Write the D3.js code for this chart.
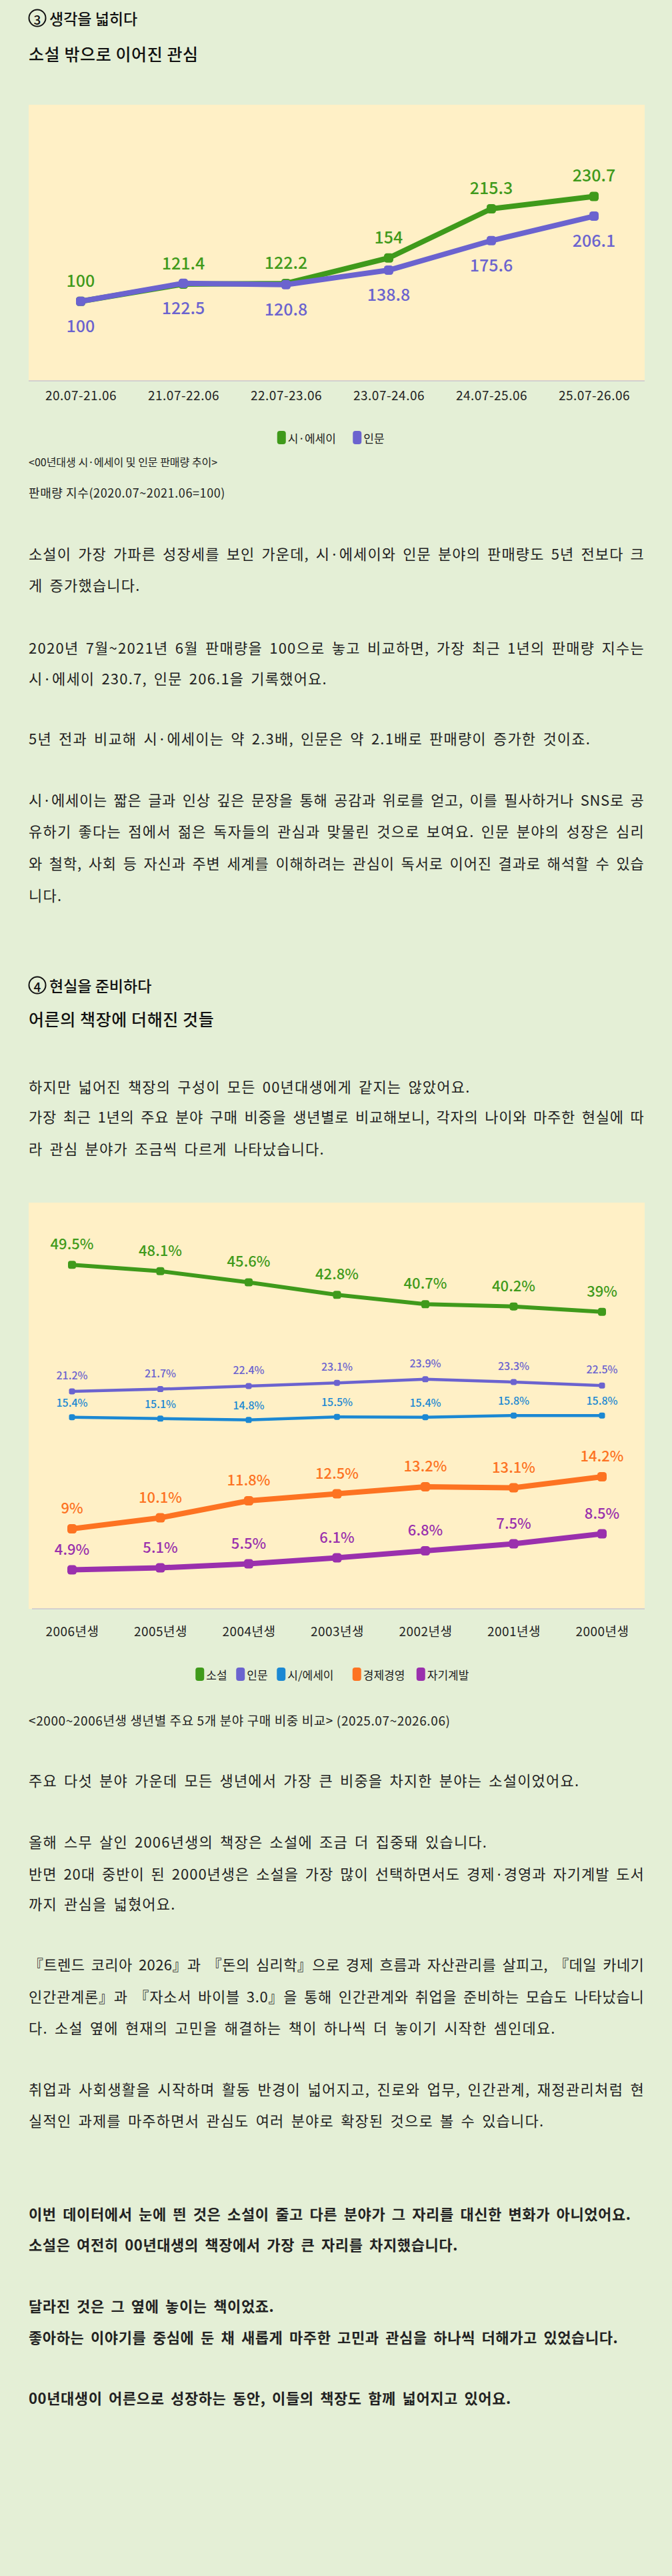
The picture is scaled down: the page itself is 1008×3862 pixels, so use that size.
<!DOCTYPE html>
<html><head><meta charset="utf-8">
<script src="https://cdn.jsdelivr.net/npm/d3@7"></script>
<style>body{margin:0;background:#e4efd6;}svg{display:block;}</style>
</head><body><svg id="c" width="1008" height="3862"></svg>
<script>
// ---------- data ----------
const periods = ["20.07-21.06","21.07-22.06","22.07-23.06","23.07-24.06","24.07-25.06","25.07-26.06"];
const poemEssay = [100,121.4,122.2,154,215.3,230.7];
const humanities = [100,122.5,120.8,138.8,175.6,206.1];
const births = ["2006년생","2005년생","2004년생","2003년생","2002년생","2001년생","2000년생"];
const novel = [49.5,48.1,45.6,42.8,40.7,40.2,39];
const human2 = [21.2,21.7,22.4,23.1,23.9,23.3,22.5];
const poem2 = [15.4,15.1,14.8,15.5,15.4,15.8,15.8];
const econ = [9,10.1,11.8,12.5,13.2,13.1,14.2];
const selfdev = [4.9,5.1,5.5,6.1,6.8,7.5,8.5];

const C = {green:"#3f9a1b", violet:"#6b63cf", blue:"#1b88d3", orange:"#fd7322", purple:"#9a30ad"};
const FONT = "'Noto Sans CJK KR','Noto Sans',sans-serif";
const svg = d3.select("#c").attr("font-family", FONT);

function txt(x,y,s,o={}){
  const t = svg.append("text").attr("x",x).attr("y",y).text(s)
    .attr("font-size",o.size||22).attr("fill",o.fill||"#222").attr("font-weight",o.w||400)
    .attr("dominant-baseline","central");
  if(o.ls!==undefined) t.attr("letter-spacing",o.ls);
  if(o.ws!==undefined) t.attr("word-spacing",o.ws);
  if(o.just){t.attr("textLength",924).attr("lengthAdjust","spacing");}
  if(o.anchor) t.attr("text-anchor",o.anchor);
  return t;
}
function heading(y,num,s){
  svg.append("circle").attr("cx",56).attr("cy",y).attr("r",12.5).attr("fill","none").attr("stroke","#111").attr("stroke-width",2);
  txt(56,y+1,num,{size:19,w:500,anchor:"middle",fill:"#111"});
  txt(74,y,s,{size:23,w:500,fill:"#111"});
}
function para(lines){ lines.forEach(([y,s,j,w])=>txt(43,y,s,{just:j,w:w||400,ls:w?0.6:1.2,ws:4})); }

// ---------- section 3 ----------
heading(27,"3","생각을 넓히다");
txt(43,80,"소설 밖으로 이어진 관심",{size:25,w:500,fill:"#111",ls:0.6});

svg.append("rect").attr("x",43).attr("y",157).attr("width",924).attr("height",414).attr("fill","#fff0c6");
svg.append("line").attr("x1",43).attr("x2",967).attr("y1",571).attr("y2",571).attr("stroke","#c9c6cf").attr("stroke-width",1.5);

const x1 = d3.scalePoint().domain(periods).range([121,891]);
const y1 = d3.scaleLinear().domain([0,345]).range([572,157]);
const xa1 = svg.append("g").attr("transform","translate(0,571)").call(d3.axisBottom(x1).tickSize(0).tickPadding(16));
xa1.select(".domain").remove();
xa1.selectAll("text").attr("font-size",19).attr("fill","#222").attr("font-family",FONT).attr("letter-spacing",0.5);

function series(xs,ys,cats,vals,col,sw,ms,dy,fs,fmt){
  const g = svg.append("g");
  const line = d3.line().x((d,i)=>xs(cats[i])).y(d=>ys(d));
  g.append("path").datum(vals).attr("d",line).attr("fill","none").attr("stroke",col).attr("stroke-width",sw).attr("stroke-linejoin","round");
  g.selectAll("rect").data(vals).join("rect")
    .attr("x",(d,i)=>xs(cats[i])-ms/2).attr("y",d=>ys(d)-ms/2).attr("width",ms).attr("height",ms).attr("rx",ms*0.3)
    .attr("fill",col);
  g.selectAll("text").data(vals).join("text")
    .attr("x",(d,i)=>xs(cats[i])).attr("y",d=>ys(d)+dy).attr("text-anchor","middle").attr("dominant-baseline","central")
    .attr("font-size",fs).attr("font-weight",500).attr("fill",col).text(fmt);
}
series(x1,y1,periods,poemEssay,C.green,8,14,-33,25,d=>d);
series(x1,y1,periods,humanities,C.violet,8,14,35,25,d=>d);

function legend(cx,y,items){
  const g = svg.append("g");
  let widths = items.map(it=>20+it[0].length*17.5+6);
  let total = d3.sum(widths); let x = cx-total/2;
  items.forEach((it,i)=>{
    g.append("rect").attr("x",x).attr("y",y-10).attr("width",13).attr("height",20).attr("rx",4).attr("fill",it[1]);
    g.append("text").attr("x",x+16).attr("y",y).attr("dominant-baseline","central").attr("font-size",17).attr("fill","#222").text(it[0]);
    x += widths[i];
  });
}
legend(503,656,[["시·에세이",C.green],["인문",C.violet]]);
txt(43,692,"<00년대생 시·에세이 및 인문 판매량 추이>",{size:16});
txt(43,738,"판매량 지수(2020.07~2021.06=100)",{size:18,ls:0.6});

para([
 [829,"소설이 가장 가파른 성장세를 보인 가운데, 시·에세이와 인문 분야의 판매량도 5년 전보다 크",true],
 [876,"게 증가했습니다."],
 [970,"2020년 7월~2021년 6월 판매량을 100으로 놓고 비교하면, 가장 최근 1년의 판매량 지수는",true],
 [1016,"시·에세이 230.7, 인문 206.1을 기록했어요."],
 [1106,"5년 전과 비교해 시·에세이는 약 2.3배, 인문은 약 2.1배로 판매량이 증가한 것이죠."],
 [1198,"시·에세이는 짧은 글과 인상 깊은 문장을 통해 공감과 위로를 얻고, 이를 필사하거나 SNS로 공",true],
 [1245,"유하기 좋다는 점에서 젊은 독자들의 관심과 맞물린 것으로 보여요. 인문 분야의 성장은 심리",true],
 [1293,"와 철학, 사회 등 자신과 주변 세계를 이해하려는 관심이 독서로 이어진 결과로 해석할 수 있습",true],
 [1341,"니다."]
]);

// ---------- section 4 ----------
heading(1477,"4","현실을 준비하다");
txt(43,1527,"어른의 책장에 더해진 것들",{size:25,w:500,fill:"#111",ls:0.6});
para([
 [1628,"하지만 넓어진 책장의 구성이 모든 00년대생에게 같지는 않았어요."],
 [1673,"가장 최근 1년의 주요 분야 구매 비중을 생년별로 비교해보니, 각자의 나이와 마주한 현실에 따",true],
 [1721,"라 관심 분야가 조금씩 다르게 나타났습니다."]
]);

svg.append("rect").attr("x",43).attr("y",1803).attr("width",924).attr("height",609).attr("fill","#fff0c6");
svg.append("line").attr("x1",48).attr("x2",967).attr("y1",2412).attr("y2",2412).attr("stroke","#c9c6cf").attr("stroke-width",1.5);
const x2 = d3.scalePoint().domain(births).range([108,903]);
// upper band (novel, humanities, poem) and lower band (economy, self-dev) use separate scales
const yHi = d3.scaleLinear().domain([0,50]).range([2228,1893]);
const yLo = d3.scaleLinear().domain([0,15]).range([2427,2202]);
const xa2 = svg.append("g").attr("transform","translate(0,2412)").call(d3.axisBottom(x2).tickSize(0).tickPadding(28));
xa2.select(".domain").remove();
xa2.selectAll("text").attr("font-size",19).attr("fill","#222").attr("font-family",FONT).attr("letter-spacing",0.5);
const pct = d=>d+"%";
series(x2,yHi,births,novel,C.green,6,12,-33,22,pct);
series(x2,yHi,births,human2,C.violet,4.5,9,-25,16,pct);
series(x2,yHi,births,poem2,C.blue,4.5,9,-23,16,pct);
series(x2,yLo,births,econ,C.orange,8,14,-33,22,pct);
series(x2,yLo,births,selfdev,C.purple,8,14,-33,22,pct);
legend(507,2510,[["소설",C.green],["인문",C.violet],["시/에세이",C.blue],["경제경영",C.orange],["자기계발",C.purple]]);
txt(43,2578,"<2000~2006년생 생년별 주요 5개 분야 구매 비중 비교> (2025.07~2026.06)",{size:19,ls:0.6});

para([
 [2668,"주요 다섯 분야 가운데 모든 생년에서 가장 큰 비중을 차지한 분야는 소설이었어요."],
 [2760,"올해 스무 살인 2006년생의 책장은 소설에 조금 더 집중돼 있습니다."],
 [2808,"반면 20대 중반이 된 2000년생은 소설을 가장 많이 선택하면서도 경제·경영과 자기계발 도서",true],
 [2853,"까지 관심을 넓혔어요."],
 [2944,"『트렌드 코리아 2026』과 『돈의 심리학』으로 경제 흐름과 자산관리를 살피고, 『데일 카네기",true],
 [2992,"인간관계론』과 『자소서 바이블 3.0』을 통해 인간관계와 취업을 준비하는 모습도 나타났습니",true],
 [3039,"다. 소설 옆에 현재의 고민을 해결하는 책이 하나씩 더 놓이기 시작한 셈인데요."],
 [3131,"취업과 사회생활을 시작하며 활동 반경이 넓어지고, 진로와 업무, 인간관계, 재정관리처럼 현",true],
 [3178,"실적인 과제를 마주하면서 관심도 여러 분야로 확장된 것으로 볼 수 있습니다."],
 [3318,"이번 데이터에서 눈에 띈 것은 소설이 줄고 다른 분야가 그 자리를 대신한 변화가 아니었어요.",false,600],
 [3364,"소설은 여전히 00년대생의 책장에서 가장 큰 자리를 차지했습니다.",false,600],
 [3456,"달라진 것은 그 옆에 놓이는 책이었죠.",false,600],
 [3503,"좋아하는 이야기를 중심에 둔 채 새롭게 마주한 고민과 관심을 하나씩 더해가고 있었습니다.",false,600],
 [3594,"00년대생이 어른으로 성장하는 동안, 이들의 책장도 함께 넓어지고 있어요.",false,600]
]);
</script></body></html>
